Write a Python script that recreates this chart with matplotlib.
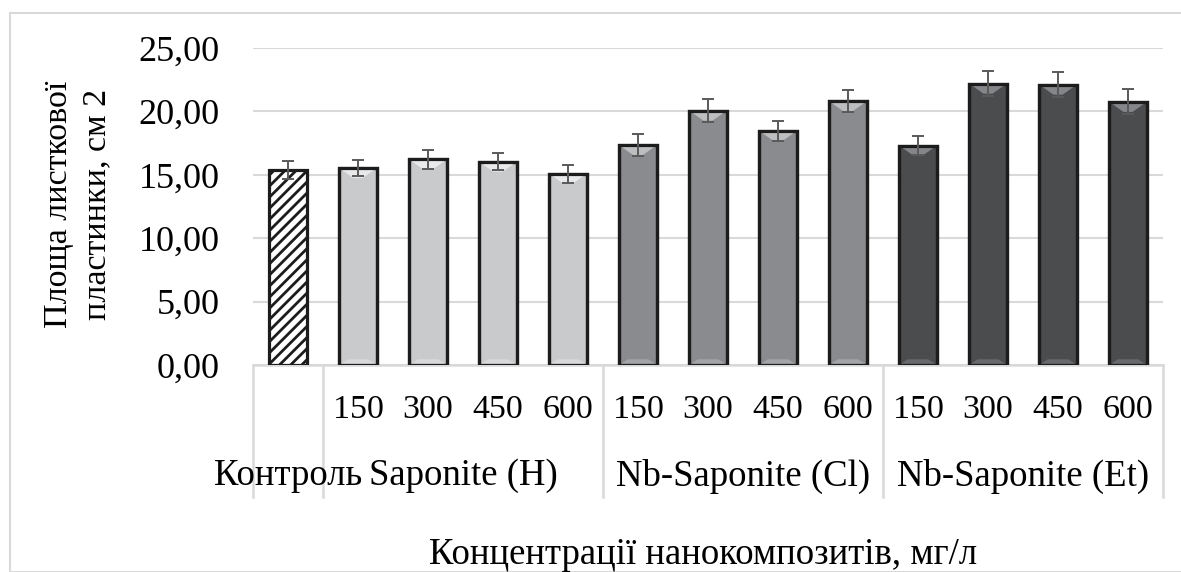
import matplotlib
matplotlib.use("Agg")
import matplotlib.pyplot as plt
from matplotlib.patches import Polygon, Rectangle
import matplotlib.transforms as mtransforms

plt.rcParams['font.family'] = ['Liberation Serif', 'DejaVu Serif']
plt.rcParams['hatch.linewidth'] = 2.0
plt.rcParams['hatch.color'] = '#1c1c1c'

# ---- data ----
groups = ["Контроль", "Saponite (H)", "Nb-Saponite (Cl)", "Nb-Saponite (Et)"]
concentrations = ["150", "300", "450", "600"]
control_value = [15.38]
control_err = [0.70]
saponite_h = [15.54, 16.22, 16.04, 15.09]
saponite_h_err = [0.63, 0.76, 0.68, 0.71]
nb_saponite_cl = [17.34, 20.07, 18.47, 20.81]
nb_saponite_cl_err = [0.85, 0.87, 0.81, 0.89]
nb_saponite_et = [17.31, 22.20, 22.12, 20.76]
nb_saponite_et_err = [0.74, 0.98, 1.02, 0.97]
yticks = [0, 5, 10, 15, 20, 25]
ytick_labels = ["0,00", "5,00", "10,00", "15,00", "20,00", "25,00"]
ylabel = "Площа листкової\nпластинки, см 2"
xlabel = "Концентрації нанокомпозитів, мг/л"

W, H = 1181, 572
fig = plt.figure(figsize=(W / 100, H / 100), dpi=100)
ax = fig.add_axes([253 / W, 1 - 365 / H, 910 / W, 317 / H])

series = [
    (control_value, control_err, "white", None),
    (saponite_h, saponite_h_err, "#c9cacc", "#e8e9ea"),
    (nb_saponite_cl, nb_saponite_cl_err, "#8a8b8e", "#bdbec0"),
    (nb_saponite_et, nb_saponite_et_err, "#4b4c4e", "#85868a"),
]

pos = 0
bar_w = 0.54
edge = "#1c1c1c"
for vals, errs, col, bevel in series:
    xs = list(range(pos, pos + len(vals)))
    if bevel is None:
        bars = ax.bar(xs, vals, width=bar_w, color="white", edgecolor=edge,
                      linewidth=2.3, hatch="///", zorder=3)
    else:
        bars = ax.bar(xs, vals, width=bar_w, color=col, edgecolor=edge,
                      linewidth=2.3, zorder=3)
        for b in bars:
            x0, w, h = b.get_x(), b.get_width(), b.get_height()
            bh = 0.8
            d = w * 0.38
            top = Polygon([(x0, h), (x0 + w, h), (x0 + w - d, h - bh), (x0 + d, h - bh)],
                          closed=True, facecolor=bevel, edgecolor="none", zorder=3.5)
            ax.add_patch(top)
            bot = Polygon([(x0, 0), (x0 + w, 0), (x0 + w - d * 0.6, 0.45), (x0 + d * 0.6, 0.45)],
                          closed=True, facecolor=bevel, edgecolor="none", zorder=3.5, alpha=0.5)
            ax.add_patch(bot)
            ax.add_patch(Rectangle((x0, 0), w, h, fill=False, edgecolor=edge,
                                   linewidth=2.3, zorder=3.6))
    ax.errorbar(xs, vals, yerr=errs, fmt="none", ecolor="#5a5a5a",
                elinewidth=1.4, capsize=4.5, capthick=1.4, zorder=4)
    pos += len(vals)

n = pos
ax.set_xlim(-0.5, n - 0.5)
ax.set_ylim(0, 25)
ax.set_yticks(yticks)
ax.set_yticklabels(ytick_labels, fontsize=26)
ax.tick_params(axis="y", length=0, pad=24)
ax.set_xticks([])
ax.yaxis.grid(True, color="#d9d9d9", linewidth=1.5, zorder=0)
ax.set_axisbelow(True)
for s in ["top", "right", "left"]:
    ax.spines[s].set_visible(False)
ax.spines["bottom"].set_color("#d9d9d9")
ax.spines["bottom"].set_linewidth(1.8)
ax.spines["bottom"].set_zorder(2)

trans = mtransforms.blended_transform_factory(ax.transData, ax.transAxes)

# concentration labels
idx = 1
for g in range(1, len(groups)):
    for c in concentrations:
        ax.text(idx, -0.14, c, transform=trans, ha="center", va="center", fontsize=24.5)
        idx += 1

# group labels, centred on their groups
group_sizes = [1, 4, 4, 4]
start = 0
for name, size in zip(groups, group_sizes):
    cx = start + (size - 1) / 2
    ax.text(cx, -0.35, name, transform=trans, ha="center", va="center",
            fontsize=26.5, zorder=5)
    start += size

# separators
sep_x = [-0.5, 0.5, 4.5, 8.5, 12.5]
for sx in sep_x:
    ax.plot([sx, sx], [0, -0.416], transform=trans, color="#d9d9d9",
            linewidth=1.8, clip_on=False, zorder=1)

# axis titles
fig.text(78 / W, 1 - 204 / H, ylabel, rotation=90, ha="center", va="center",
         fontsize=24.5, multialignment="center", linespacing=1.3)
fig.text(703 / W, 1 - 555 / H, xlabel, ha="center", va="center", fontsize=26.5)

# chart border
fig.patches.append(Rectangle((10 / W, 0), 1.2, 1 - 13 / H, transform=fig.transFigure,
                             fill=False, edgecolor="#d9d9d9", linewidth=1.5))

fig.savefig("out.png", dpi=100)
